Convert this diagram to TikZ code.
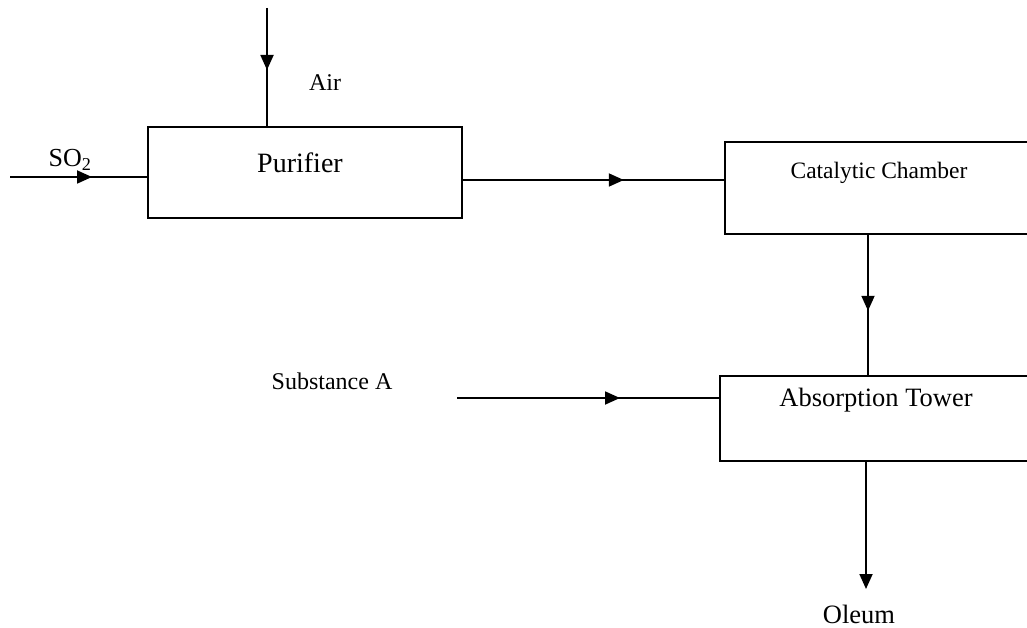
\documentclass[tikz,border=0pt]{standalone}
\usepackage{fontspec}
\setmainfont{Liberation Serif}
\usetikzlibrary{arrows.meta,decorations.markings}
\tikzset{
  unitbox/.style={draw, line width=1.6pt, inner sep=0pt},
  flow/.style={line width=1.8pt},
  midarrow/.style={postaction={decorate}, decoration={markings,
     mark=at position #1 with {\arrow{Triangle[length=15pt,width=13pt]}}}},
  lbl/.style={inner sep=0pt, font=\fontsize{#1}{#1}\selectfont},
}
\begin{document}
\begin{tikzpicture}[x=1pt,y=-1pt]
\useasboundingbox (0,0) rectangle (1027,628);
% boxes
\node[unitbox, minimum width=314pt, minimum height=91pt] (pur) at (305,172.5) {};
\node[unitbox, minimum width=375pt, minimum height=92pt] (cat) at (912.5,188) {};
\node[unitbox, minimum width=380pt, minimum height=85pt] (abs) at (910,418.5) {};
% box texts
\node[lbl=28] (purt) at (300,163) {Purifier};
\node[lbl=23.5] (catt) at (879,173) {Catalytic Chamber};
\node[lbl=26.5] (abst) at (876,400) {Absorption Tower};
% free labels
\node[lbl=24] (air) at (325,83) {Air};
\node[lbl=26] (so2) at (70,160) {SO\textsubscript{2}};
\node[lbl=24] (subA) at (332,381) {Substance A};
\node[lbl=26.5] (oleum) at (859,614) {Oleum};
% free ends
\coordinate (airtop) at (267,8);
\coordinate (so2in) at (10,177);
\coordinate (subin) at (457,398);
\coordinate (olend) at (866,589);
% connectors
\draw[flow, midarrow=62pt] (airtop) -- (airtop |- pur.north);
\draw[flow, midarrow=82pt] (so2in) -- (so2in -| pur.west);
\draw[flow, midarrow=161pt] (pur.east |- 0,180) -- (cat.west |- 0,180);
\draw[flow, midarrow=76pt] (cat.south -| 868,0) -- (abs.north -| 868,0);
\draw[flow, midarrow=163pt] (subin) -- (subin -| abs.west);
\draw[flow, -{Triangle[length=15pt,width=13pt]}] (abs.south -| olend) -- (olend);
\end{tikzpicture}
\end{document}
